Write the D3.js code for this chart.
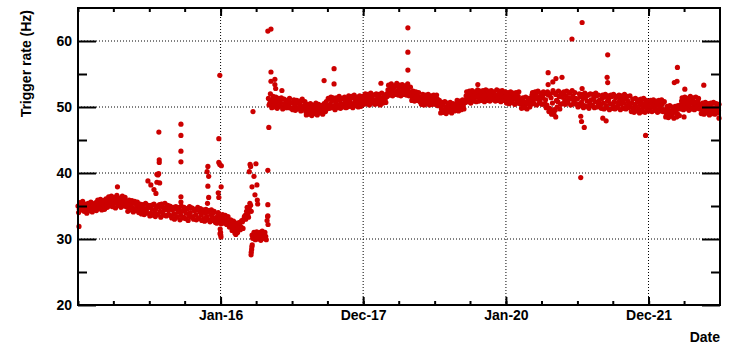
<!DOCTYPE html>
<html>
<head>
<meta charset="utf-8">
<script src="https://cdn.jsdelivr.net/npm/d3@7"></script>
<style>
    body { margin: 0; background: #ffffff; }
    svg text { font-family: "Liberation Sans", Arial, Helvetica, sans-serif; font-weight: bold; fill: #000; }
</style>
</head>
<body>
<div id="chart"></div>
<script>
// Trigger rate (Hz), one value per week starting Jan 1 of each year
const rate2014 = [35.0, 34.5, 35.2, 34.4, 34.9, 35.3, 34.6, 34.2, 35.0, 34.7, 35.4, 34.5, 34.9,
    35.5, 34.6, 35.1, 35.6, 34.8, 35.3, 34.9, 35.8,
    35.2, 36.0, 35.4, 35.7, 36.2, 35.3, 35.9, 35.5, 36.1, 35.2, 35.8, 35.4, 36.0, 35.3, 35.7,
    35.0, 35.6, 34.8, 35.3, 34.7, 35.4, 34.6, 35.1, 34.5,
    34.9, 34.2, 34.7, 34.0, 34.6, 34.3, 34.8];
const rate2015 = [34.8, 33.9, 34.5, 35.2, 34.0, 34.6, 33.7, 34.9, 34.2, 35.3, 33.8, 34.4, 34.7, 33.6, 34.3, 35.0,
    33.5, 34.4, 33.8, 34.6, 33.4, 34.1, 34.8, 33.6, 34.2, 33.3, 34.5, 33.9, 34.6, 33.5, 34.0, 34.7, 33.4, 34.3, 33.7, 34.4, 33.2, 34.1,
    33.6, 34.2, 33.1, 33.9, 33.4, 34.1, 32.9, 33.7, 33.3, 34.0, 33.2,
    32.8, 33.5, 33.0];
const rate2016 = [33.3, 32.6, 33.1, 32.4, 32.9, 32.2,
    32.6, 31.9, 32.3, 31.5, 32.0, 31.2, 31.6,
    31.9, 32.4, 31.8, 32.6, 33.0,
    33.6, 34.2, 33.8, 34.7, 35.1,
    30.6, 30.2, 30.9, 30.4, 30.7, 30.3, 31.0, 30.5, 30.2, 30.8, 30.4,
    32.8,
    51.3, 50.6, 51.0, 50.2, 50.8, 51.4, 50.3, 50.9, 50.1, 50.6, 51.2, 50.0, 50.5, 50.9, 49.9, 50.4, 50.7];
const rate2017 = [50.6, 49.9, 50.4, 50.0, 50.7, 49.8, 50.3, 50.9, 49.7, 50.2,
    49.3, 49.9, 49.5, 50.1, 49.2, 49.7, 49.4, 50.0, 49.3, 49.8, 49.5, 50.2, 49.6, 49.9, 50.3,
    50.8, 50.1, 51.2, 50.4, 50.9, 51.4, 50.2, 50.7, 51.1, 50.3, 51.0, 50.5, 51.3, 50.4, 50.8,
    51.2, 50.5, 51.0, 50.6, 51.4, 50.3, 50.9, 51.3, 50.6, 51.1, 50.4, 51.0];
const rate2018 = [51.0, 51.5, 50.8, 51.3, 51.7, 50.9, 51.4, 51.1, 51.8, 50.7, 51.2, 51.6, 51.0, 51.4, 50.9, 51.5, 51.2,
    52.0, 52.6, 52.2, 53.0, 52.4, 52.8, 52.1, 53.2, 52.5, 52.9, 52.3, 53.1, 52.6, 52.2, 52.8, 53.0, 52.4, 52.1,
    51.9, 51.4, 51.8, 51.2, 51.6, 51.0, 51.5,
    51.2, 50.8, 51.4, 50.9, 51.3, 50.7, 51.1, 51.5, 50.8, 51.2];
const rate2019 = [51.3, 50.8, 51.2, 50.6,
    50.2, 49.7, 50.3, 49.5, 50.0, 49.6, 50.2, 49.4, 49.9, 50.1, 49.6,
    50.0, 50.5, 49.9, 50.4, 50.1, 50.7, 50.3,
    51.0, 51.7, 51.3, 52.0, 51.5, 51.1, 51.9, 51.4, 52.2, 51.6,
    51.9, 51.4, 52.1, 51.6, 51.3, 52.0, 51.5, 51.8, 51.2, 51.9, 51.6, 52.2, 51.4, 51.8, 51.5, 52.0, 51.3, 51.7, 51.9, 51.4];
const rate2020 = [51.6, 51.1, 51.8, 51.3, 51.0, 51.7, 51.2, 51.5, 50.9, 51.6, 51.2,
    50.9, 50.4, 50.8, 50.3, 50.7, 50.5, 51.0,
    51.3, 51.8, 51.0, 51.6, 52.1, 51.2, 51.5, 50.9, 51.7, 51.4, 52.0,
    51.1, 50.3, 51.8, 49.8, 51.4, 50.6, 52.2, 49.5, 51.0, 50.8, 51.6, 50.4,
    51.5, 52.0, 51.1, 51.7, 50.9, 51.4, 52.1, 51.2, 51.6, 50.8, 51.3];
const rate2021 = [51.2, 50.4, 51.6, 50.7, 51.3, 50.2, 51.5, 50.9, 51.8, 50.5, 51.1, 50.3, 51.4, 50.8, 51.7, 50.6, 51.0,
    50.4, 51.3, 50.6, 51.5, 50.2, 50.9, 51.2, 50.5, 51.6, 50.3, 50.8, 51.4, 50.1, 50.7, 51.2, 50.4, 51.0, 50.6, 51.3, 50.2, 50.9, 50.5,
    50.0, 50.6, 49.8, 50.4, 50.1, 50.8, 49.7, 50.3, 50.6, 49.9, 50.5, 50.2, 49.8];
const rate2022 = [50.5, 49.9, 50.6, 50.0, 50.4, 49.7, 50.3, 50.8, 49.8, 50.2, 50.5, 49.6,
    49.5, 48.9, 49.6, 49.0, 49.4, 48.8, 49.7, 49.2, 49.5, 49.0, 49.8,
    50.3, 50.9, 50.1, 50.7, 51.2, 50.4, 50.8, 50.0, 50.6, 51.0, 50.2, 50.7, 50.3, 50.9, 50.4,
    50.0, 49.4, 49.9, 49.6, 50.2, 49.3, 49.8, 50.1, 49.5, 49.9, 49.2, 49.7, 50.0, 49.5];

// Second sample of each week (3 days later)
const rate2014b = [34.0, 35.5, 34.5, 35.7, 34.2, 35.2, 33.9, 35.4, 34.3, 35.6, 34.1, 35.3, 34.4,
    34.3, 35.9, 34.6, 36.0, 34.4, 35.8, 34.5, 36.1,
    34.8, 36.4, 35.0, 36.5, 34.9, 36.3, 34.7, 36.6, 35.1, 36.2, 34.8, 36.5, 35.0, 36.3, 34.9,
    34.2, 35.9, 34.4, 35.8, 34.1, 35.7, 34.3, 35.6, 34.0,
    35.3, 33.8, 35.2, 33.7, 35.4, 33.9, 35.1];
const rate2015b = [33.5, 35.1, 33.6, 35.3, 33.4, 35.0, 33.8, 35.2, 33.3, 34.9, 33.6, 35.4, 33.5, 35.1, 33.7, 34.9,
    33.2, 34.8, 33.0, 34.9, 33.3, 34.7, 32.9, 35.0, 33.2, 34.8, 33.1, 34.6, 32.8, 34.9, 33.3, 34.7, 33.0, 34.5, 32.9, 34.8, 33.1, 34.6,
    32.8, 34.4, 32.7, 34.5, 32.9, 34.3, 32.6, 34.4, 32.8, 34.2, 32.5,
    32.4, 34.0, 32.6];
const rate2016b = [32.3, 33.7, 32.5, 33.6, 32.2, 33.4,
    31.8, 32.9, 31.3, 32.7, 30.9, 32.4, 31.0,
    32.5, 31.4, 32.8, 31.6, 33.4,
    33.0, 34.8, 33.3, 35.4, 34.2,
    30.1, 31.0, 29.9, 31.1, 30.0, 30.9, 29.8, 31.2, 30.1, 31.0, 29.9,
    33.4,
    50.3, 52.0, 49.9, 51.6, 50.0, 51.5, 49.8, 51.3, 50.2, 51.4, 49.7, 51.2, 49.9, 51.0, 50.1, 51.3, 49.8];
const rate2017b = [49.6, 51.1, 49.5, 51.0, 49.7, 50.9, 49.4, 51.2, 49.8, 50.8,
    48.8, 50.4, 48.9, 50.5, 48.7, 50.3, 49.0, 50.6, 48.8, 50.4, 49.1, 50.2, 48.9, 50.5, 49.3,
    49.7, 51.3, 49.8, 51.5, 49.9, 51.2, 49.6, 51.4, 49.9, 51.6, 49.8, 51.3, 50.0, 51.5, 49.9,
    50.0, 51.7, 50.1, 51.6, 49.9, 51.8, 50.2, 51.5, 50.0, 51.7, 50.1, 51.6];
const rate2018b = [50.4, 52.0, 50.5, 51.9, 50.3, 52.1, 50.6, 51.8, 50.4, 52.0, 50.5, 51.9, 50.3, 52.1, 50.6, 51.8, 50.7,
    51.6, 53.3, 51.8, 53.5, 51.7, 53.2, 51.9, 53.6, 51.8, 53.3, 51.7, 53.4, 51.9, 53.2, 51.8, 53.5, 51.7, 53.0,
    51.0, 52.4, 50.9, 52.3, 51.0, 52.2, 50.8,
    50.4, 51.9, 50.3, 51.8, 50.5, 51.9, 50.3, 51.7, 50.4, 51.8];
const rate2019b = [50.4, 51.8, 50.2, 51.0,
    49.1, 50.7, 49.2, 50.8, 49.0, 50.6, 49.3, 50.7, 49.1, 50.5, 49.4,
    49.5, 51.0, 49.4, 50.9, 49.6, 51.1, 49.7,
    50.7, 52.3, 50.8, 52.4, 50.6, 52.5, 50.9, 52.3, 50.8, 52.6,
    50.9, 52.4, 51.0, 52.5, 50.8, 52.6, 51.0, 52.4, 50.9, 52.5, 51.1, 52.3, 50.9, 52.6, 51.0, 52.4, 50.8, 52.5, 51.0, 52.3];
const rate2020b = [50.6, 52.2, 50.5, 52.3, 50.7, 52.1, 50.4, 52.2, 50.6, 52.3, 50.5,
    49.8, 51.4, 49.9, 51.5, 49.7, 51.3, 50.0,
    50.4, 52.2, 50.5, 52.3, 50.3, 52.4, 50.6, 52.1, 50.4, 52.3, 50.5,
    49.9, 52.3, 49.3, 52.0, 48.9, 52.5, 49.6, 51.9, 50.0, 52.4, 49.7, 52.1,
    50.5, 52.3, 50.4, 52.4, 50.6, 52.2, 50.3, 52.5, 50.5, 52.2, 50.4];
const rate2021b = [50.0, 52.0, 50.2, 51.9, 49.9, 52.1, 50.1, 51.8, 49.8, 52.0, 50.2, 51.9, 49.9, 52.1, 50.0, 51.8, 50.1,
    49.8, 51.8, 49.7, 51.9, 49.9, 51.7, 49.6, 51.8, 49.8, 51.9, 49.7, 51.6, 49.9, 51.8, 49.6, 51.7, 49.8, 51.9, 49.7, 51.6, 49.9, 51.7,
    49.3, 51.2, 49.2, 51.3, 49.4, 51.1, 49.1, 51.2, 49.3, 51.3, 49.2, 51.0, 49.4];
const rate2022b = [49.4, 51.0, 49.3, 51.1, 49.5, 50.9, 49.2, 51.0, 49.4, 51.1, 49.3, 50.8,
    48.5, 50.1, 48.4, 50.2, 48.6, 50.0, 48.3, 50.1, 48.5, 50.2, 48.7,
    49.7, 51.4, 49.6, 51.5, 49.8, 51.3, 49.5, 51.6, 49.7, 51.4, 49.6, 51.5, 49.8, 51.3, 49.7,
    49.0, 50.6, 48.9, 50.7, 49.1, 50.5, 48.8, 50.6, 49.0, 50.7, 48.9, 50.5, 49.1, 50.4];

const years = [2014, 2015, 2016, 2017, 2018, 2019, 2020, 2021, 2022];
const weeklyRates = [rate2014, rate2015, rate2016, rate2017, rate2018, rate2019, rate2020, rate2021, rate2022];
const midweekRates = [rate2014b, rate2015b, rate2016b, rate2017b, rate2018b, rate2019b, rate2020b, rate2021b, rate2022b];

// Single runs away from the main band
const outliers = [
    ["2014-01-06", 31.9], ["2014-07-22", 37.9],
    ["2014-12-25", 38.8], ["2015-01-09", 38.2], ["2015-01-25", 37.5], ["2015-02-04", 36.9],
    ["2015-02-09", 39.8], ["2015-02-14", 39.7], ["2015-02-19", 46.2], ["2015-02-21", 42.0], ["2015-02-21", 41.6],
    ["2015-02-23", 38.5], ["2015-02-09", 38.6], ["2015-02-18", 39.9],
    ["2015-06-12", 47.4], ["2015-06-12", 45.7], ["2015-06-12", 43.3], ["2015-06-12", 41.7], ["2015-06-12", 36.4], ["2015-06-12", 35.6],
    ["2015-10-28", 41.0], ["2015-10-24", 40.2], ["2015-11-01", 39.5], ["2015-10-28", 38.0], ["2015-11-01", 36.3], ["2015-10-26", 35.4],
    ["2015-12-23", 45.2], ["2015-12-23", 41.6], ["2015-12-28", 41.3], ["2016-01-05", 41.1], ["2016-01-04", 37.9],
    ["2015-12-20", 37.0], ["2015-12-23", 36.3], ["2015-12-28", 54.8],
    ["2015-12-30", 31.5], ["2016-01-01", 31.0], ["2016-01-02", 30.6], ["2016-01-03", 30.3], ["2015-12-29", 30.8],
    ["2016-03-19", 30.7], ["2016-03-25", 31.0],
    ["2016-05-27", 40.2], ["2016-05-31", 41.3], ["2016-06-03", 41.0], ["2016-06-30", 41.4], ["2016-06-20", 39.5],
    ["2016-06-10", 37.9], ["2016-07-05", 38.2], ["2016-06-25", 36.7], ["2016-07-07", 35.9], ["2016-07-09", 35.3], ["2016-06-15", 49.3],
    ["2016-06-05", 27.6], ["2016-06-06", 28.0], ["2016-06-08", 28.4], ["2016-06-09", 28.8], ["2016-06-11", 29.1],
    ["2016-08-30", 40.4], ["2016-08-30", 35.2], ["2016-08-30", 33.5], ["2016-08-31", 32.2], ["2016-09-04", 46.9],
    ["2016-08-30", 61.5], ["2016-09-15", 61.8], ["2016-09-15", 55.3], ["2016-09-15", 53.9], ["2016-10-05", 54.2],
    ["2016-10-05", 53.4], ["2016-10-09", 52.8], ["2016-11-10", 52.5],
    ["2017-06-14", 54.0], ["2017-08-04", 55.8], ["2017-08-04", 53.5],
    ["2018-04-01", 53.6], ["2018-08-17", 62.0], ["2018-08-17", 58.3], ["2018-08-17", 55.6],
    ["2019-08-10", 53.4],
    ["2020-08-04", 55.2], ["2020-08-04", 53.4], ["2020-09-13", 54.3], ["2020-10-14", 54.5], ["2020-08-28", 53.8],
    ["2020-09-03", 48.9], ["2020-08-30", 49.3], ["2020-09-12", 48.5], ["2020-12-04", 60.3],
    ["2021-01-25", 62.8], ["2021-01-25", 52.8], ["2021-01-18", 48.6], ["2021-01-22", 47.8], ["2021-02-05", 46.9], ["2021-01-18", 39.3],
    ["2021-06-05", 57.9], ["2021-06-02", 54.5], ["2021-06-05", 53.7], ["2021-05-11", 48.3], ["2021-05-28", 47.9],
    ["2021-12-16", 45.7],
    ["2022-05-28", 56.0], ["2022-05-26", 53.9], ["2022-05-12", 53.7], ["2022-07-01", 48.5], ["2022-07-05", 52.7],
    ["2022-10-10", 53.3], ["2022-12-27", 48.3]
];

// Axis ticks
const xDomain = ["2014-01-01", "2023-01-01"];
const xMajorDates = ["2016-01-01", "2017-12-31", "2020-01-01", "2021-12-31"];
const xMajorLabels = ["Jan-16", "Dec-17", "Jan-20", "Dec-21"];
const yDomain = [20, 65];
const yMajor = [20, 30, 40, 50, 60];
const yMinor = [25, 35, 45, 55];

function createRateGraph(container_width, container_height) {
    let parse = d3.utcParse("%Y-%m-%d");

    /* Collect all points */
    let points = [];
    years.forEach((yr, i) => {
        let start = new Date(Date.UTC(yr, 0, 1));
        weeklyRates[i].forEach((v, w) => points.push([d3.utcDay.offset(start, 7 * w), v]));
        midweekRates[i].forEach((v, w) => points.push([d3.utcDay.offset(start, 7 * w + 3), v]));
    });
    outliers.forEach(d => points.push([parse(d[0]), d[1]]));

    let svg = d3.select("#chart")
        .append("svg")
        .attr("width", container_width)
        .attr("height", container_height);

    let margin = { top: 8, left: 78, bottom: 42, right: 11 };
    let width = container_width - margin.left - margin.right;
    let height = container_height - margin.top - margin.bottom;

    let g = svg.append('g')
        .attr("transform", `translate(${margin.left}, ${margin.top})`);

    /* Scales */
    let xScale = d3.scaleUtc()
        .domain(xDomain.map(parse))
        .range([0, width]);

    let yScale = d3.scaleLinear()
        .domain(yDomain)
        .range([height, 0]);

    let majorDates = xMajorDates.map(parse);
    let minorDates = d3.utcMonth.every(6).range(xScale.domain()[0], xScale.domain()[1]);

    /* Dotted grid */
    g.selectAll(".gridx")
        .data(majorDates)
        .enter()
        .append("line")
        .attr("x1", d => xScale(d)).attr("x2", d => xScale(d))
        .attr("y1", 0).attr("y2", height)
        .attr("stroke", "#000")
        .attr("stroke-width", 1)
        .attr("stroke-dasharray", "1,2");

    g.selectAll(".gridy")
        .data(yMajor.slice(1))
        .enter()
        .append("line")
        .attr("x1", 0).attr("x2", width)
        .attr("y1", d => yScale(d)).attr("y2", d => yScale(d))
        .attr("stroke", "#000")
        .attr("stroke-width", 1)
        .attr("stroke-dasharray", "1,2");

    /* Points */
    g.selectAll(".dot")
        .data(points)
        .enter()
        .append("circle")
        .attr("cx", d => xScale(d[0]))
        .attr("cy", d => yScale(d[1]))
        .attr('r', 2.6)
        .attr("fill", "#cc0000");

    /* Axes */
    let fmt = (d, i) => xMajorLabels[i];

    function styleAxis(sel) {
        sel.select(".domain").remove();
        sel.selectAll(".tick line").attr("stroke", "#000").attr("stroke-width", 2);
        sel.selectAll("text").attr("font-size", "14px").attr("fill", "#000");
    }

    g.append('g')
        .attr("transform", `translate(0, ${height})`)
        .call(d3.axisBottom(xScale).tickValues(minorDates).tickSize(-4).tickFormat(""))
        .call(styleAxis);
    g.append('g')
        .attr("transform", `translate(0, ${height})`)
        .call(d3.axisBottom(xScale).tickValues(majorDates).tickSize(-8).tickPadding(5).tickFormat(fmt))
        .call(styleAxis);
    g.append('g')
        .call(d3.axisTop(xScale).tickValues(minorDates).tickSize(-4).tickFormat(""))
        .call(styleAxis);
    g.append('g')
        .call(d3.axisTop(xScale).tickValues(majorDates).tickSize(-8).tickFormat(""))
        .call(styleAxis);

    g.append('g')
        .call(d3.axisLeft(yScale).tickValues(yMinor).tickSize(-9).tickFormat(""))
        .call(styleAxis);
    g.append('g')
        .call(d3.axisLeft(yScale).tickValues(yMajor).tickSize(-18).tickPadding(6).tickFormat(d3.format("d")))
        .call(styleAxis);
    g.append('g')
        .attr("transform", `translate(${width}, 0)`)
        .call(d3.axisRight(yScale).tickValues(yMinor).tickSize(-9).tickFormat(""))
        .call(styleAxis);
    g.append('g')
        .attr("transform", `translate(${width}, 0)`)
        .call(d3.axisRight(yScale).tickValues(yMajor).tickSize(-18).tickFormat(""))
        .call(styleAxis);

    /* Frame */
    g.append("rect")
        .attr("x", 0).attr("y", 0)
        .attr("width", width).attr("height", height)
        .attr("fill", "none")
        .attr("stroke", "#000")
        .attr("stroke-width", 2);

    /* Titles */
    g.append("text")
        .attr("x", width)
        .attr("y", height + 37)
        .attr("text-anchor", "end")
        .attr("font-size", "14px")
        .text("Date");

    g.append("text")
        .attr("transform", "rotate(-90)")
        .attr('x', -2)
        .attr('y', -47)
        .attr("text-anchor", "end")
        .attr("font-size", "14px")
        .text("Trigger rate (Hz)");
}

createRateGraph(731, 347);
</script>
</body>
</html>
